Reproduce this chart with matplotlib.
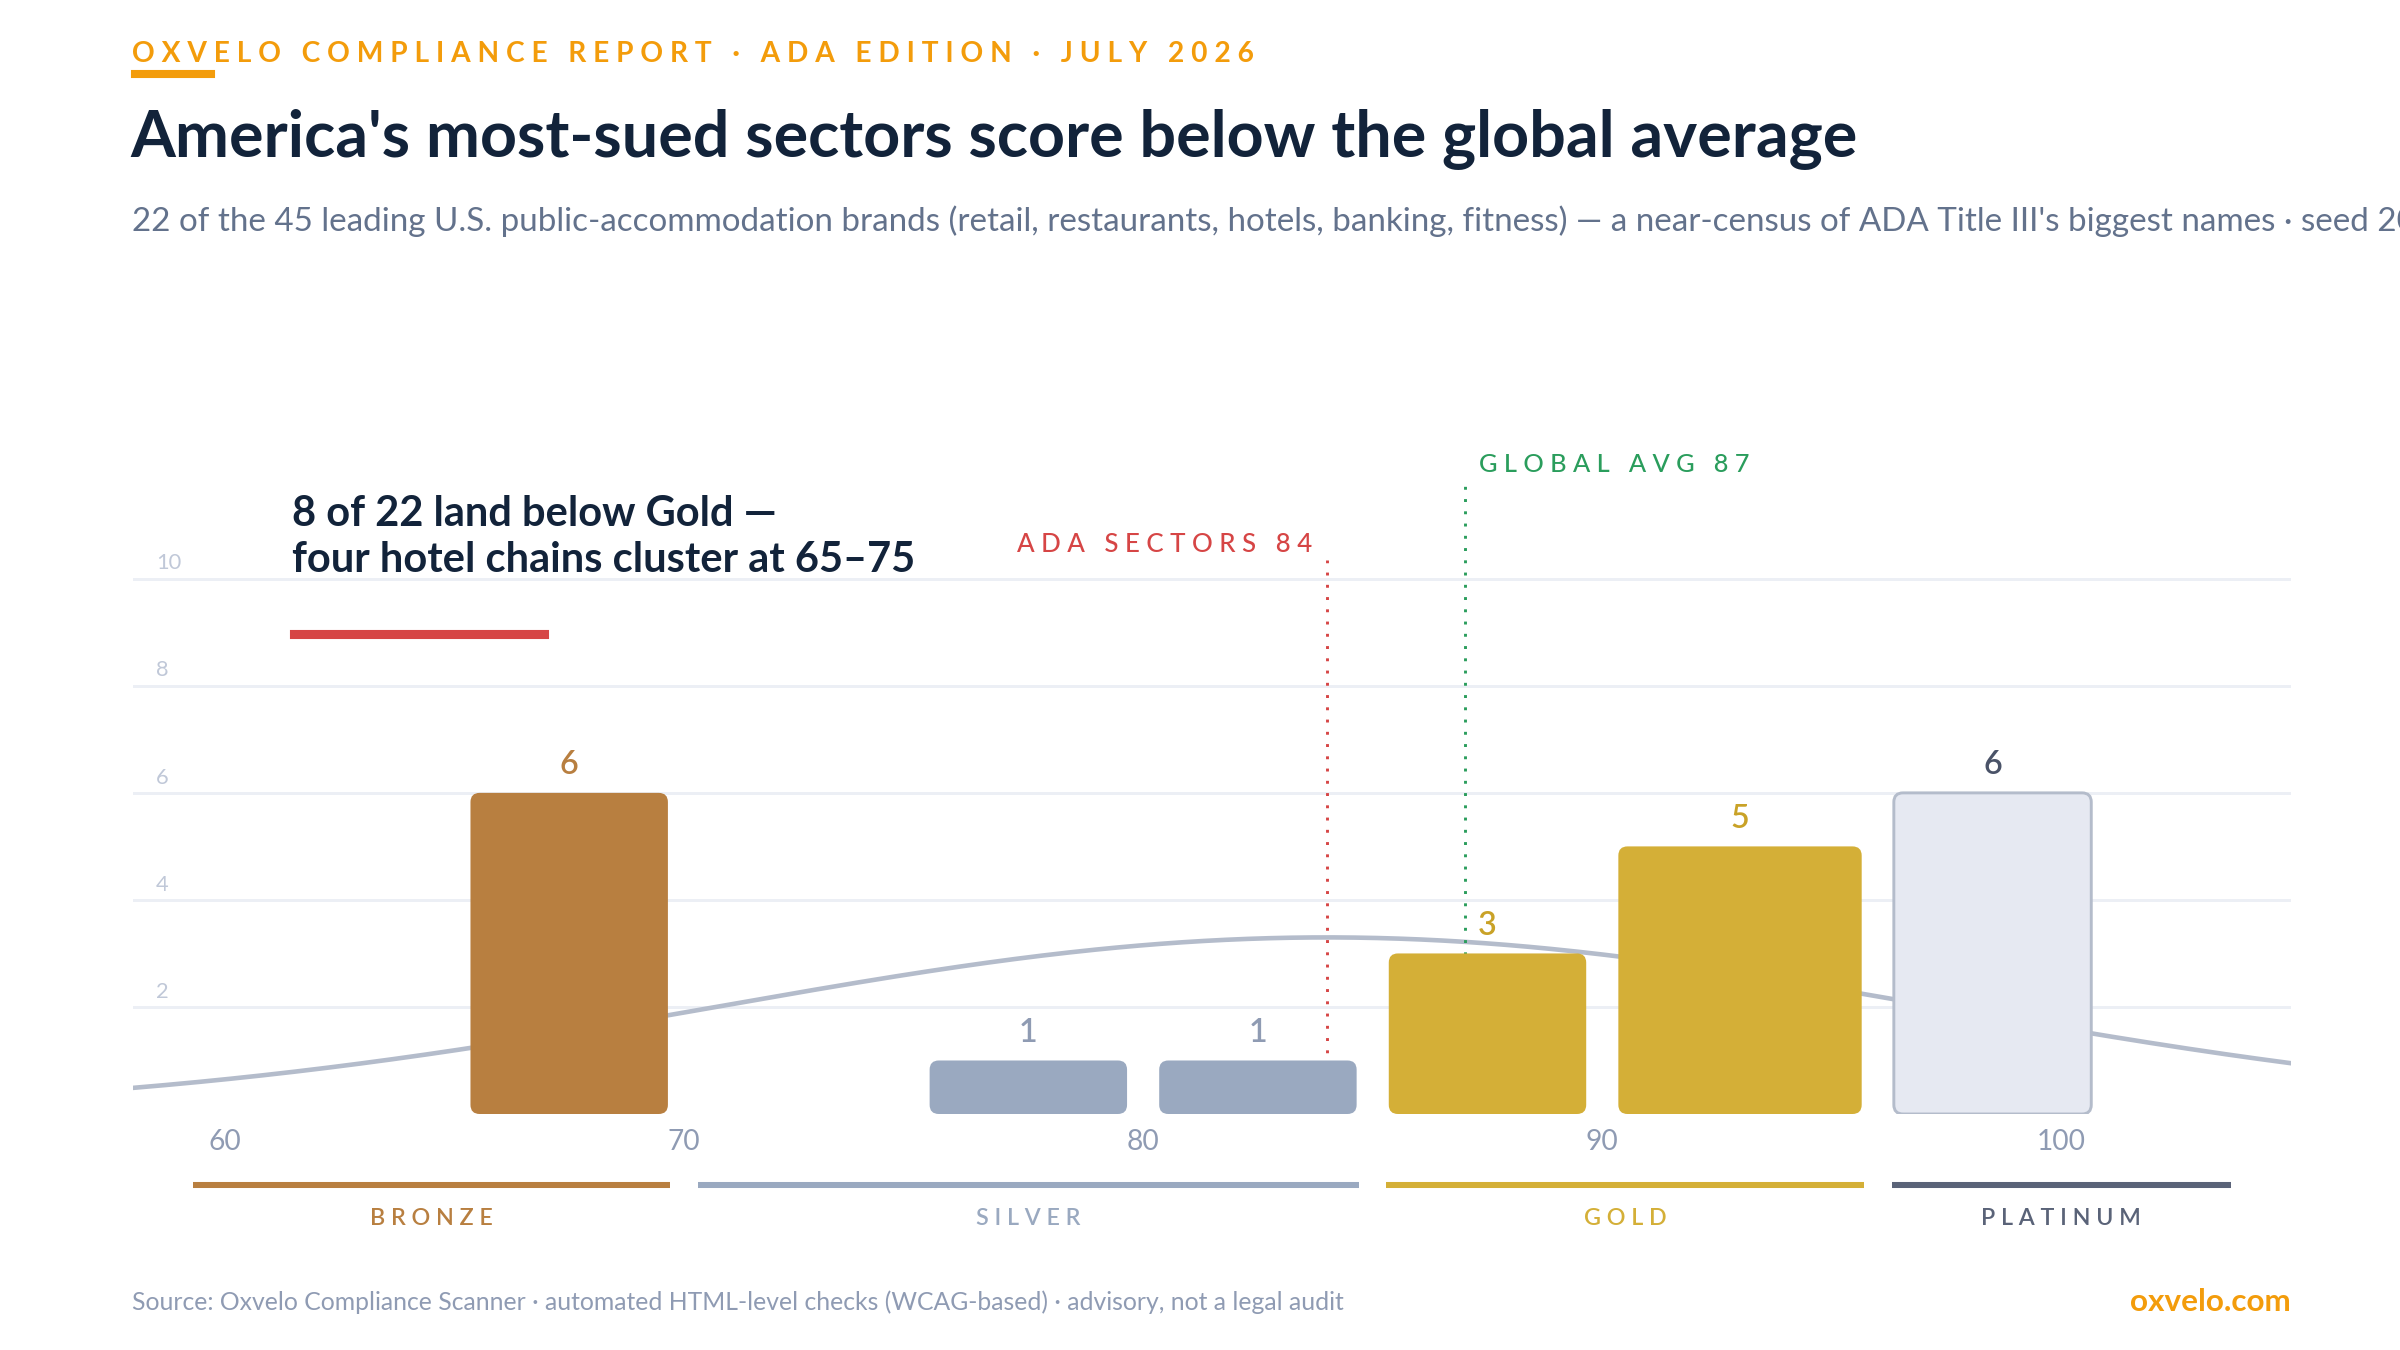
import matplotlib
matplotlib.use("Agg")
import matplotlib.pyplot as plt
import numpy as np
from matplotlib.patches import FancyBboxPatch
from matplotlib.transforms import blended_transform_factory

plt.rcParams['font.family'] = ['Lato', 'DejaVu Sans']

# --- data -------------------------------------------------------------
bin_lo = [65, 75, 80, 85, 90, 96]
bin_hi = [70, 80, 85, 90, 96, 101]
counts = [6, 1, 1, 3, 5, 6]
bar_tier = ['bronze', 'silver', 'silver', 'gold', 'gold', 'platinum']

tier_names = ['bronze', 'silver', 'gold', 'platinum']
tier_labels = ['BRONZE', 'SILVER', 'GOLD', 'PLATINUM']
tier_lo = [59, 70, 85, 96]
tier_hi = [70, 85, 96, 104]

x_ticks = [60, 70, 80, 90, 100]
y_ticks = [2, 4, 6, 8, 10]

ada_avg = 84
global_avg = 87
fit_mean = 84
fit_sd = 13.3
n_brands = 22
bin_width = 5

# --- style ------------------------------------------------------------
ORANGE = '#f39c0b'
NAVY = '#12233a'
SLATE = '#63728c'
RED = '#d64545'
GREEN = '#2a9d5c'
GRID = '#eceff5'
TICK = '#8f9bb3'
fill = {'bronze': '#b87f40', 'silver': '#9aa9c0', 'gold': '#d4af37', 'platinum': '#e6e9f2'}
label_col = {'bronze': '#b87f40', 'silver': '#8f9bb3', 'gold': '#c9a227', 'platinum': '#4a5368'}
band_col = {'bronze': '#b87f40', 'silver': '#9aa9c0', 'gold': '#d4af37', 'platinum': '#5a6378'}

W, H = 2400, 1350


def fx(p):
    return p / W


def fy(p):
    return 1 - p / H


def spaced(s):
    # fake letter-spacing
    return '   '.join(' '.join(w) for w in s.split(' '))


fig = plt.figure(figsize=(16, 9), dpi=150)
fig.patch.set_facecolor('white')

ax = fig.add_axes([fx(133), fy(1114), fx(2291) - fx(133), (1114 - 445) / H])
ax.set_xlim(58, 105)
ax.set_ylim(0, 12.5)
for s in ax.spines.values():
    s.set_visible(False)

# grid + y labels
for t in y_ticks:
    ax.axhline(t, color=GRID, lw=1.4, zorder=0)
ytr = blended_transform_factory(ax.transAxes, ax.transData)
for t in y_ticks:
    ax.text(0.0107, t + 0.1, str(t), transform=ytr, ha='left', va='bottom',
            fontsize=10.5, color='#c0c8d8')
ax.set_yticks([])

ax.set_xticks(x_ticks)
ax.set_xticklabels([str(v) for v in x_ticks])
ax.tick_params(axis='x', length=0, pad=7, labelsize=13.5, labelcolor=TICK)

# fitted normal curve
xs = np.linspace(58, 105, 400)
ys = n_brands * bin_width / (fit_sd * np.sqrt(2 * np.pi)) * np.exp(-0.5 * ((xs - fit_mean) / fit_sd) ** 2)
ax.plot(xs, ys, color='#b4bccb', lw=2.2, zorder=1)

# reference lines
ax.vlines(ada_avg, 0, 10.35, colors=RED, lw=1.4, linestyles=(0, (1, 3.2)), zorder=2)
ax.vlines(global_avg, 0, 11.8, colors=GREEN, lw=1.4, linestyles=(0, (1, 3.2)), zorder=2)
ax.annotate(spaced(f'ADA SECTORS {ada_avg}'), (ada_avg, 10.64), xytext=(-7, 0),
            textcoords='offset points', ha='right', va='center', fontsize=12.4,
            color=RED, fontweight='medium')
ax.annotate(spaced(f'GLOBAL AVG {global_avg}'), (global_avg, 12.13), xytext=(7, 0),
            textcoords='offset points', ha='left', va='center', fontsize=12.2,
            color=GREEN, fontweight='medium', annotation_clip=False)

# bars
pad = 0.35
for lo, hi, c, tier in zip(bin_lo, bin_hi, counts, bar_tier):
    edge = '#b4bccb' if tier == 'platinum' else 'none'
    lw = 1.4 if tier == 'platinum' else 0
    box = FancyBboxPatch((lo + pad, 0), hi - lo - 2 * pad, c,
                         boxstyle='round,pad=0,rounding_size=0.2', mutation_aspect=0.857,
                         facecolor=fill[tier], edgecolor=edge, linewidth=lw, zorder=3)
    ax.add_patch(box)
    ax.annotate(str(c), ((lo + hi) / 2, c), xytext=(0, 9), textcoords='offset points',
                ha='center', va='baseline', fontsize=15.5, fontweight='semibold',
                color=label_col[tier])

# tier bands below the axis
for name, lab, lo, hi in zip(tier_names, tier_labels, tier_lo, tier_hi):
    ax.plot([lo + 0.3, hi - 0.3], [-1.33, -1.33], color=band_col[name], lw=2.9,
            solid_capstyle='butt', clip_on=False)
    ax.text((lo + hi) / 2, -1.95, spaced(lab), ha='center', va='center', fontsize=11.2,
            fontweight='semibold', color=band_col[name], clip_on=False)

# headline texts
fig.text(fx(132), fy(54), spaced('OXVELO COMPLIANCE REPORT · ADA EDITION · JULY 2026'),
         ha='left', va='center', fontsize=13.5, fontweight='bold', color=ORANGE)
fig.patches.append(plt.Rectangle((fx(132), fy(77)), fx(82), 6 / H, transform=fig.transFigure,
                                 color=ORANGE, figure=fig))
fig.text(fx(130), fy(157), "America's most-sued sectors score below the global average",
         ha='left', va='baseline', fontsize=31, fontweight='bold', color=NAVY)
fig.text(fx(132), fy(221),
         "22 of the 45 leading U.S. public-accommodation brands (retail, restaurants, hotels, "
         "banking, fitness) \u2014 a near-census of ADA Title III's biggest names \u00b7 seed 2026",
         ha='left', va='center', fontsize=15.9, color=SLATE)

# callout
fig.text(fx(292), fy(537), "8 of 22 land below Gold \u2014\nfour hotel chains cluster at 65\u201375",
         ha='left', va='center', fontsize=20, fontweight='bold', color=NAVY, linespacing=1.27)
fig.patches.append(plt.Rectangle((fx(291), fy(638)), fx(257), 7 / H, transform=fig.transFigure,
                                 color=RED, figure=fig))

# footer
fig.text(fx(132), fy(1302),
         "Source: Oxvelo Compliance Scanner \u00b7 automated HTML-level checks (WCAG-based) "
         "\u00b7 advisory, not a legal audit",
         ha='left', va='center', fontsize=11.9, color=TICK)
fig.text(fx(2291), fy(1302), "oxvelo.com", ha='right', va='center', fontsize=15.1,
         fontweight='bold', color=ORANGE)

fig.savefig('out.png', dpi=150, facecolor='white')
